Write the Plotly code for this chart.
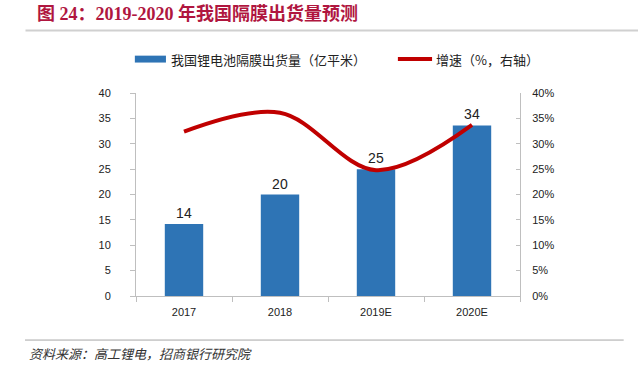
import plotly.graph_objects as go

categories = ["2017", "2018", "2019E", "2020E"]
shipments = [14.2, 20.0, 25.0, 33.6]          # 亿平米
shipment_labels = ["14", "20", "25", "34"]
growth = [0.324, 0.361, 0.248, 0.337]          # 增速
left_ticks = [0, 5, 10, 15, 20, 25, 30, 35, 40]
right_ticks = [0, 0.05, 0.10, 0.15, 0.20, 0.25, 0.30, 0.35, 0.40]

bar_name = "我国锂电池隔膜出货量（亿平米）"
line_name = "增速（%，右轴）"
title_text = "图 24：2019-2020 年我国隔膜出货量预测"
source_text = "资料来源：高工锂电，招商银行研究院"

BAR_COLOR = "#2E74B5"
LINE_COLOR = "#C00000"
AXIS_COLOR = "#BFBFBF"
TICK_FONT = dict(family="Liberation Sans, Arial, sans-serif", size=11, color="#222222")

fig = go.Figure()
fig.add_trace(go.Bar(
    x=categories, y=shipments, name=bar_name,
    marker=dict(color=BAR_COLOR, line=dict(width=0)),
    width=0.4,
    text=shipment_labels, textposition="outside",
    textfont=dict(family="Liberation Sans, Arial, sans-serif", size=14, color="#222222"),
    cliponaxis=False, showlegend=False,
))
fig.add_trace(go.Scatter(
    x=categories, y=growth, name=line_name, yaxis="y2", mode="lines",
    line=dict(color=LINE_COLOR, width=4, shape="spline", smoothing=1.0),
    showlegend=False,
))

fig.update_layout(
    width=638, height=372,
    margin=dict(l=136, r=118, t=93, b=76),
    paper_bgcolor="white", plot_bgcolor="white",
    bargap=0.6, showlegend=False,
    xaxis=dict(
        showgrid=False, showline=True, linecolor=AXIS_COLOR, linewidth=1,
        ticks="outside", ticklen=5, tickcolor=AXIS_COLOR, tickson="boundaries",
        tickfont=TICK_FONT, ticklabelstandoff=6,
    ),
    yaxis=dict(
        range=[0, 40], tickvals=left_ticks, showgrid=False, zeroline=False,
        showline=True, linecolor=AXIS_COLOR, linewidth=1,
        ticks="outside", ticklen=5, tickcolor=AXIS_COLOR,
        tickfont=TICK_FONT, ticklabelstandoff=17,
    ),
    yaxis2=dict(
        range=[0, 0.4], tickvals=right_ticks, tickformat=".0%", overlaying="y", side="right",
        showgrid=False, zeroline=False,
        showline=True, linecolor=AXIS_COLOR, linewidth=1,
        ticks="inside", ticklen=4, tickcolor=AXIS_COLOR,
        tickfont=TICK_FONT, ticklabelstandoff=9,
    ),
)

# Title
fig.add_annotation(
    xref="paper", yref="paper", x=-0.263, y=1.394, xanchor="left", yanchor="middle",
    text="<b>" + title_text + "</b>", showarrow=False,
    font=dict(family="Liberation Serif, Noto Sans CJK SC, serif", size=18, color="#B0163F"),
)
# Separator lines
fig.add_annotation(
    xref="paper", yref="paper", x=-0.289, y=1.306, xanchor="left", yanchor="middle",
    text=" ", showarrow=False, width=612, height=1, borderpad=0,
    bgcolor="#D0D0D0", font=dict(size=1),
)
fig.add_shape(type="line", xref="paper", yref="paper", x0=-0.289, x1=1.27, y0=-0.217, y1=-0.217,
              line=dict(color="#A6A6A6", width=1))
# Source
fig.add_annotation(
    xref="paper", yref="paper", x=-0.284, y=-0.281, xanchor="left", yanchor="middle",
    text="<i>" + source_text + "</i>", showarrow=False,
    font=dict(family="Noto Sans CJK SC, sans-serif", size=13, color="#333333"),
)
# Custom legend
fig.add_shape(type="rect", xref="paper", yref="paper", x0=-0.003, x1=0.078, y0=1.150, y1=1.184,
              fillcolor=BAR_COLOR, line=dict(width=0))
fig.add_annotation(xref="paper", yref="paper", x=0.086, y=1.167, xanchor="left", yanchor="middle",
                   text=bar_name, showarrow=False,
                   font=dict(family="Noto Sans CJK SC, sans-serif", size=13, color="#222222"))
fig.add_shape(type="line", xref="paper", yref="paper", x0=0.682, x1=0.771, y0=1.167, y1=1.167,
              line=dict(color=LINE_COLOR, width=4))
fig.add_annotation(xref="paper", yref="paper", x=0.776, y=1.167, xanchor="left", yanchor="middle",
                   text=line_name, showarrow=False,
                   font=dict(family="Noto Sans CJK SC, sans-serif", size=13, color="#222222"))

fig.write_html("out.html", config={"displayModeBar": False},
               post_script="document.body.style.margin='0';document.body.style.padding='0';")
